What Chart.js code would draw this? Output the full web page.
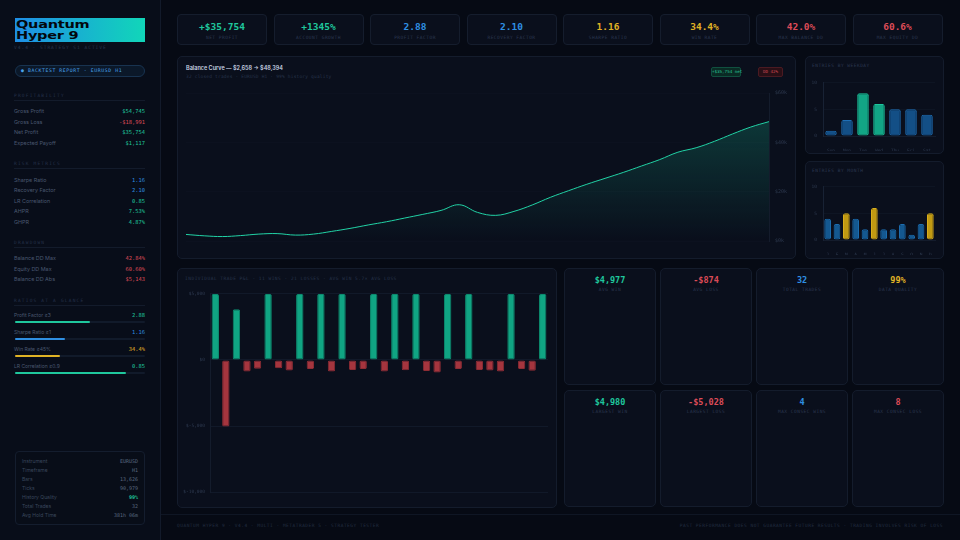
<!DOCTYPE html>
<html>
<head>
<meta charset="utf-8">
<script src="https://cdn.jsdelivr.net/npm/chart.js@4.4.1/dist/chart.umd.min.js"></script>
<style>
  html, body { margin: 0; padding: 0; }
  body { width: 960px; height: 540px; background: #060a14; position: relative; overflow: hidden; font-family: Inter, sans-serif; }
  .abs { position: absolute; }
  .mono { font-family: 'DejaVu Sans Mono', monospace; }
  .cap { font-family: 'DejaVu Sans Mono', monospace; font-size: 4.5px; letter-spacing: 0.5px; color: #2a3750; text-transform: uppercase; white-space: nowrap; }
  .sidebar { left: 0; top: 0; width: 160px; height: 540px; background: #080d19; border-right: 1px solid #121a2a; }
  .panel { background: #0a0f1c; border: 1px solid #141c2c; border-radius: 5px; box-sizing: border-box; }
  .kpi { top: 14px; width: 90px; height: 31px; background: #0a0f1c; border: 1px solid #151d2d; border-radius: 4px; box-sizing: border-box; text-align: center; overflow: hidden; }
  .kpi .glow { position: absolute; left: 10px; right: 10px; top: -1px; height: 1px; }
  .kpi .val { position: absolute; left: 0; right: 0; top: 6px; font-family: 'DejaVu Sans Mono', monospace; font-weight: bold; font-size: 9.5px; }
  .kpi .lab { position: absolute; left: 0; right: 0; top: 20px; }
  .stat { width: 92px; height: 117px; }
  .stat .val { position: absolute; left: 0; right: 0; top: 6px; text-align: center; font-family: 'DejaVu Sans Mono', monospace; font-weight: bold; font-size: 8.5px; }
  .stat .lab { position: absolute; left: 0; right: 0; top: 18px; text-align: center; }
  .row { left: 14px; width: 131px; height: 8px; font-size: 5.4px; }
  .row .l { position: absolute; left: 0; top: 0; color: #4a5870; white-space: nowrap; }
  .row .v { position: absolute; right: 0; top: 0; font-family: 'DejaVu Sans Mono', monospace; font-size: 5.4px; }
  .hline { height: 1px; background: #131b2b; }
  .badge { height: 10px; box-sizing: border-box; border-radius: 2px; font-size: 4.2px; text-align: center; line-height: 8px; white-space: nowrap; }
</style>
</head>
<body>
<div class="abs sidebar"></div>
<div id="root"></div>

<div class="abs" style="left:15px;top:18px;width:130px;height:24px;background:linear-gradient(90deg,#1e8ee6,#11d6b9);"></div>
<div class="abs" style="left:16px;top:19px;font-family:'DejaVu Sans';font-weight:bold;font-size:11px;line-height:11px;color:#03070d;transform:scaleX(1.32);transform-origin:left top;letter-spacing:-0.2px;">Quantum<br>Hyper 9</div>
<div class="abs cap" style="left:14px;top:45px;color:#2a364c;letter-spacing:1px;">V4.4 · STRATEGY S1 ACTIVE</div>
<div class="abs" style="left:15px;top:65px;width:130px;height:12px;box-sizing:border-box;border:1px solid #183350;background:#0b1829;border-radius:6px;"></div>
<div class="abs mono" style="left:21px;top:67.5px;font-size:4.8px;letter-spacing:0.6px;color:#4aa4ec;white-space:nowrap;">● BACKTEST REPORT · EURUSD H1</div>

<div class="abs cap" style="left:177px;top:523px;color:#222d40;">QUANTUM HYPER 9 · V4.4 · MULTI · METATRADER 5 · STRATEGY TESTER</div>
<div class="abs cap" style="right:17px;top:523px;color:#222d40;">PAST PERFORMANCE DOES NOT GUARANTEE FUTURE RESULTS · TRADING INVOLVES RISK OF LOSS</div>

<!-- balance panel -->
<div class="abs panel" style="left:177px;top:56px;width:619px;height:203px;"></div>
<div class="abs" style="left:186px;top:65px;font-size:5.5px;font-weight:600;color:#c9d3e2;white-space:nowrap;">Balance Curve — $2,658 → $48,394</div>
<div class="abs cap" style="left:186px;top:74px;color:#27334a;letter-spacing:0.2px;text-transform:none;">32 closed trades · EURUSD H1 · 99% history quality</div>
<div class="abs mono badge" style="left:711px;top:67px;width:30px;border:1px solid #10503f;background:#0a2a24;color:#2cc79c;">+$35,754 net</div>
<div class="abs mono badge" style="left:758px;top:67px;width:25px;border:1px solid #4a1a22;background:#2a0f16;color:#d04a55;">DD 42%</div>
<canvas id="balanceChart" class="abs" style="left:180px;top:84px;width:612px;height:166px;"></canvas>

<!-- weekday -->
<div class="abs panel" style="left:805px;top:56px;width:139px;height:98px;"></div>
<div class="abs cap" style="left:812px;top:63px;">ENTRIES BY WEEKDAY</div>
<canvas id="weekdayChart" class="abs" style="left:806px;top:74px;width:134px;height:77px;"></canvas>

<!-- month -->
<div class="abs panel" style="left:805px;top:161px;width:139px;height:98px;"></div>
<div class="abs cap" style="left:812px;top:168px;">ENTRIES BY MONTH</div>
<canvas id="monthChart" class="abs" style="left:806px;top:178px;width:134px;height:77px;"></canvas>

<!-- trades -->
<div class="abs panel" style="left:177px;top:268px;width:380px;height:240px;"></div>
<div class="abs cap" style="left:185px;top:276px;color:#27334a;">INDIVIDUAL TRADE P&amp;L · 11 WINS · 21 LOSSES · AVG WIN 5.7× AVG LOSS</div>
<canvas id="tradeChart" class="abs" style="left:180px;top:286px;width:372px;height:214px;"></canvas>

<div class="abs" style="left:161px;top:514px;width:799px;height:1px;background:#0f1624;"></div>

<script>
const kpiValues = ['+$35,754', '+1345%', '2.88', '2.10', '1.16', '34.4%', '42.0%', '60.6%'];
const kpiLabels = ['Net Profit', 'Account Growth', 'Profit Factor', 'Recovery Factor', 'Sharpe Ratio', 'Win Rate', 'Max Balance DD', 'Max Equity DD'];
const kpiTones = ['teal', 'teal', 'blue', 'blue', 'gold', 'gold', 'red', 'red'];

const statValues = ['$4,977', '-$874', '32', '99%', '$4,980', '-$5,028', '4', '8'];
const statLabels = ['Avg Win', 'Avg Loss', 'Total Trades', 'Data Quality', 'Largest Win', 'Largest Loss', 'Max Consec Wins', 'Max Consec Loss'];
const statTones = ['teal', 'red', 'blue', 'gold', 'teal', 'red', 'blue', 'red'];

const profitRows = [['Gross Profit', '$54,745', 'teal'], ['Gross Loss', '-$18,991', 'red'], ['Net Profit', '$35,754', 'teal'], ['Expected Payoff', '$1,117', 'teal']];
const riskRows = [['Sharpe Ratio', '1.16', 'blue'], ['Recovery Factor', '2.10', 'blue'], ['LR Correlation', '0.85', 'teal'], ['AHPR', '7.53%', 'teal'], ['GHPR', '4.87%', 'teal']];
const ddRows = [['Balance DD Max', '42.84%', 'red'], ['Equity DD Max', '60.60%', 'red'], ['Balance DD Abs', '$5,143', 'red']];
const ratioLabels = ['Profit Factor ≥3', 'Sharpe Ratio ≥1', 'Win Rate ≥45%', 'LR Correlation ≥0.9'];
const ratioValues = [2.88, 1.16, 34.4, 0.85];
const ratioScale = [5, 3, 100, 1];
const ratioText = ['2.88', '1.16', '34.4%', '0.85'];
const ratioTones = ['teal', 'blue', 'gold', 'teal'];
const infoRows = [['Instrument', 'EURUSD'], ['Timeframe', 'H1'], ['Bars', '13,626'], ['Ticks', '90,979'], ['History Quality', '99%'], ['Total Trades', '32'], ['Avg Hold Time', '381h 06m']];

const balanceValues = [2658, 2100, 1800, 2200, 2800, 3000, 2400, 2800, 3900, 5100, 6500, 7800, 9300, 10800, 12400, 14700, 11600, 10400, 12000, 14600, 17700, 20400, 23000, 25400, 27800, 30400, 33000, 36000, 37800, 40400, 43400, 46200, 48394];
const balanceTicks = [0, 20000, 40000, 60000];

const weekdayLabels = ['Sun', 'Mon', 'Tue', 'Wed', 'Thu', 'Fri', 'Sat'];
const weekdayCounts = [1, 3, 8, 6, 5, 5, 4];

const monthLabels = ['J', 'F', 'M', 'A', 'M', 'J', 'J', 'A', 'S', 'O', 'N', 'D'];
const monthCounts = [4, 3, 5, 4, 2, 6, 2, 2, 3, 1, 3, 5];

const tradePnl = [4980, -5028, 3820, -880, -660, 4970, -640, -800, 4975, -690, 4980, -870, 4970, -760, -690, 4975, -880, 4980, -780, 4970, -840, -960, 4975, -690, 4970, -760, -800, -880, 4980, -690, -820, 4975];
const tradeTicks = [-10000, -5000, 0, 5000];

const tones = { teal: '#1fc79d', blue: '#2f8fe2', gold: '#e0b325', red: '#dc4b57' };

const root = document.getElementById('root');
function el(html) {
  const t = document.createElement('template');
  t.innerHTML = html.trim();
  const node = t.content.firstChild;
  root.appendChild(node);
  return node;
}

kpiValues.forEach((v, i) => {
  const c = tones[kpiTones[i]];
  el(`<div class="abs kpi" style="left:${177 + i * 96.5}px">
    <div class="glow" style="background:linear-gradient(90deg,transparent,${c},transparent);"></div>
    <div class="val" style="color:${c}">${v}</div>
    <div class="lab cap">${kpiLabels[i]}</div></div>`);
});

statValues.forEach((v, i) => {
  const col = i % 4, r = Math.floor(i / 4);
  el(`<div class="abs panel stat" style="left:${564 + col * 96}px;top:${r ? 390 : 268}px">
    <div class="val" style="color:${tones[statTones[i]]}">${v}</div>
    <div class="lab cap">${statLabels[i]}</div></div>`);
});

function section(title, top) {
  el(`<div class="abs cap" style="left:14px;top:${top}px;letter-spacing:1.2px;color:#25314a">${title}</div>`);
  el(`<div class="abs hline" style="left:14px;top:${top + 7}px;width:131px"></div>`);
}
function rows(list, top, step) {
  list.forEach((r, i) => {
    el(`<div class="abs row" style="top:${top + i * step}px"><span class="l">${r[0]}</span><span class="v" style="color:${tones[r[2]]}">${r[1]}</span></div>`);
  });
}
section('PROFITABILITY', 93);
rows(profitRows, 108, 10.5);
section('RISK METRICS', 161);
rows(riskRows, 177, 10.4);
section('DRAWDOWN', 240);
rows(ddRows, 255, 10.5);
section('RATIOS AT A GLANCE', 298);
ratioLabels.forEach((lab, i) => {
  const top = 312 + i * 17;
  const c = tones[ratioTones[i]];
  const w = Math.min(1, ratioValues[i] / ratioScale[i]) * 130;
  el(`<div class="abs row" style="top:${top}px"><span class="l" style="font-size:5px">${lab}</span><span class="v" style="color:${c}">${ratioText[i]}</span></div>`);
  el(`<div class="abs" style="left:15px;top:${top + 9}px;width:130px;height:2px;background:#111a2a;border-radius:1px"></div>`);
  el(`<div class="abs" style="left:15px;top:${top + 9}px;width:${w}px;height:2px;background:${c};border-radius:1px"></div>`);
});

el(`<div class="abs" style="left:15px;top:451px;width:130px;height:74px;box-sizing:border-box;border:1px solid #141d2e;border-radius:4px;background:#080d18"></div>`);
infoRows.forEach((r, i) => {
  const hq = r[0] === 'History Quality';
  el(`<div class="abs" style="left:22px;top:${458 + i * 9}px;width:116px;height:8px;font-size:5px">
    <span class="abs" style="left:0;top:0;color:#3a475c;white-space:nowrap">${r[0]}</span>
    <span class="abs mono" style="right:0;top:0;color:${hq ? tones.teal : '#5a6880'};font-weight:${hq ? 'bold' : 'normal'};white-space:nowrap">${r[1]}</span></div>`);
});

Chart.defaults.animation = false;
Chart.defaults.font.family = "'DejaVu Sans Mono', monospace";
Chart.defaults.color = '#2e3a50';

const faintGrid = 'rgba(36, 50, 74, 0.3)';

const bctx = document.getElementById('balanceChart');
new Chart(bctx, {
  type: 'line',
  data: {
    labels: balanceValues.map((_, i) => i),
    datasets: [{
      data: balanceValues,
      borderColor: '#22d3a6',
      borderWidth: 1,
      pointRadius: 0,
      tension: 0.4,
      fill: 'origin',
      backgroundColor: (ctx) => {
        const area = ctx.chart.chartArea;
        if (!area) return 'rgba(20,160,130,0.15)';
        const g = ctx.chart.ctx.createLinearGradient(0, area.top, 0, area.bottom);
        g.addColorStop(0, 'rgba(22,170,135,0.32)');
        g.addColorStop(1, 'rgba(22,170,135,0.0)');
        return g;
      }
    }]
  },
  options: {
    responsive: false,
    devicePixelRatio: 1,
    layout: { padding: { left: 6, top: 4, bottom: 4, right: 0 } },
    plugins: { legend: { display: false }, tooltip: { enabled: false } },
    scales: {
      x: { display: false, offset: false },
      y: {
        position: 'right',
        min: 0, max: 60000,
        afterBuildTicks: (s) => { s.ticks = balanceTicks.map((v) => ({ value: v })); },
        afterFit: (s) => { s.width = 23; },
        grid: { color: 'rgba(36,50,74,0.07)', drawTicks: false },
        border: { color: '#141c2c' },
        ticks: { font: { size: 5 }, color: '#2e3a50', padding: 6, callback: (v) => `$${v / 1000}k` }
      }
    }
  }
});

function countChart(id, labels, data, colorFn) {
  new Chart(document.getElementById(id), {
    type: 'bar',
    data: {
      labels,
      datasets: [{
        data,
        backgroundColor: data.map((v, i) => colorFn(v, i).fill),
        borderColor: data.map((v, i) => colorFn(v, i).line),
        borderWidth: 1,
        borderRadius: 2,
        borderSkipped: false,
        barPercentage: 0.72,
        categoryPercentage: 1
      }]
    },
    options: {
      responsive: false,
      devicePixelRatio: 1,
      layout: { padding: { left: 0, top: 4, right: 5, bottom: 0 } },
      plugins: { legend: { display: false }, tooltip: { enabled: false } },
      scales: {
        x: {
          grid: { display: false },
          border: { color: '#141c2c' },
          afterFit: (s) => { s.height = 15; },
          ticks: { font: { size: 4.5 }, color: '#2e3a50', padding: 4, maxRotation: 0, autoSkip: false }
        },
        y: {
          min: 0, max: 10,
          afterFit: (s) => { s.width = 17; },
          grid: { color: 'rgba(36,50,74,0.18)', drawTicks: false },
          border: { color: '#182234' },
          ticks: { stepSize: 5, font: { size: 4.5 }, color: '#2e3a50', padding: 6 }
        }
      }
    }
  });
}

countChart('weekdayChart', weekdayLabels, weekdayCounts, (v) =>
  v >= 6 ? { fill: '#12a585', line: '#1cc79d' } : { fill: '#134f86', line: '#1f6fb6' });
countChart('monthChart', monthLabels, monthCounts, (v) =>
  v >= 5 ? { fill: '#c19a12', line: '#d9ae1c' } : { fill: '#145890', line: '#1c6db0' });

new Chart(document.getElementById('tradeChart'), {
  type: 'bar',
  data: {
    labels: tradePnl.map((_, i) => i + 1),
    datasets: [{
      data: tradePnl,
      backgroundColor: tradePnl.map((v) => (v >= 0 ? '#10a583' : '#a5353e')),
      borderColor: tradePnl.map((v) => (v >= 0 ? '#0c8a6e' : '#8e2c34')),
      borderWidth: 1,
      borderRadius: 1.5,
      borderSkipped: false,
      barPercentage: 0.7,
      categoryPercentage: 1
    }]
  },
  options: {
    responsive: false,
    devicePixelRatio: 1,
    layout: { padding: { left: 0, top: 6, right: 4, bottom: 4 } },
    plugins: { legend: { display: false }, tooltip: { enabled: false } },
    scales: {
      x: { display: false },
      y: {
        min: -10000, max: 5000,
        afterBuildTicks: (s) => { s.ticks = tradeTicks.map((v) => ({ value: v })); },
        afterFit: (s) => { s.width = 30; },
        grid: { color: faintGrid, drawTicks: false },
        border: { color: '#141c2c' },
        ticks: { font: { size: 4.5 }, color: '#2e3a50', padding: 5, callback: (v) => '$' + v.toLocaleString('en-US') }
      }
    }
  }
});
</script>
</body>
</html>
